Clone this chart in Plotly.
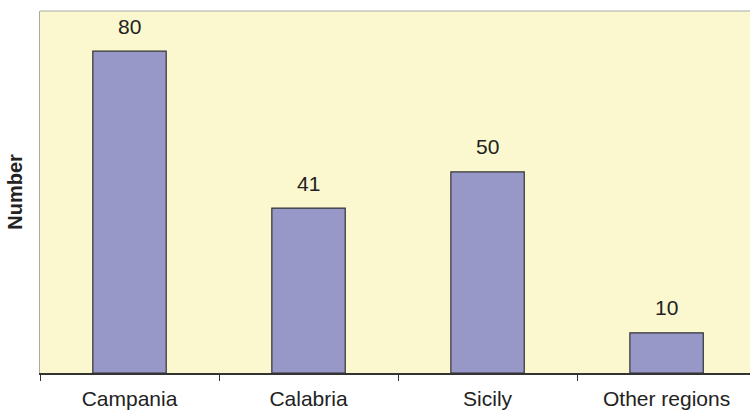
import plotly.graph_objects as go

# Regions and counts
regions = ["Campania", "Calabria", "Sicily", "Other regions"]
counts = [80, 41, 50, 10]

bar_fill = "#9797C8"
bar_edge = "#333333"
panel_bg = "#FBF8CF"
text_col = "#222222"
font_family = "Liberation Sans, Arial, sans-serif"

fig = go.Figure()
fig.add_trace(go.Bar(
    x=regions,
    y=counts,
    marker=dict(color=bar_fill, line=dict(color=bar_edge, width=1.2)),
    hoverinfo="x+y",
))

# Value labels above each bar
for r, c in zip(regions, counts):
    fig.add_annotation(
        x=r, y=c, text=str(c), showarrow=False,
        yanchor="middle", yshift=25,
        font=dict(family=font_family, size=21, color=text_col),
    )

# Thin grey frame on the top of the panel
fig.add_shape(type="line", xref="x domain", yref="y domain",
              x0=0, x1=1, y0=1, y1=1, line=dict(color="#AAAAAA", width=1.2))

fig.update_layout(
    width=750, height=415,
    margin=dict(l=40, r=0, t=11, b=42),
    paper_bgcolor="white",
    plot_bgcolor=panel_bg,
    bargap=0.59,
    showlegend=False,
    font=dict(family=font_family, size=21, color=text_col),
)
fig.update_xaxes(
    type="category",
    range=[-0.5, 3.466],
    showline=True, linecolor="#333333", linewidth=1.5,
    ticks="outside", tickson="boundaries", ticklen=6, tickcolor="#333333", tickwidth=1.2,
    ticklabelstandoff=6,
    showgrid=False, zeroline=False,
    tickfont=dict(size=21, color=text_col),
)
fig.update_yaxes(
    range=[0, 90],
    showticklabels=False, ticks="",
    showgrid=False, zeroline=False,
    showline=True, linecolor="#AAAAAA", linewidth=1.2,
    title=dict(text="<b>Number</b>", standoff=10,
               font=dict(size=20, color=text_col)),
)

fig.write_html("out.html")
